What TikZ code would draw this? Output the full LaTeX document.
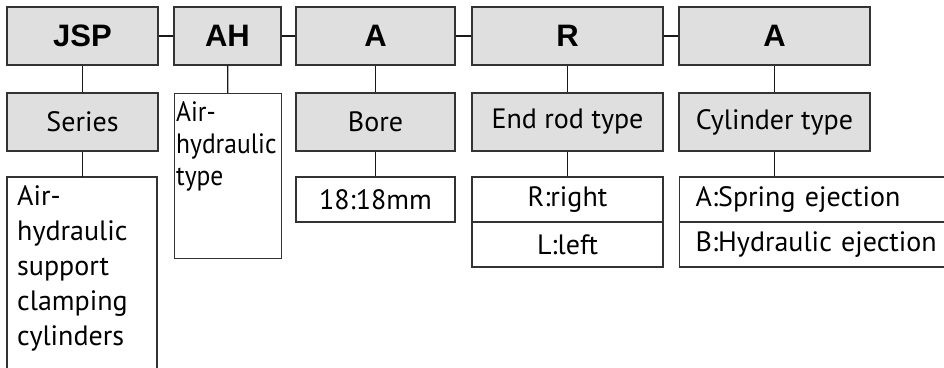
\documentclass[tikz,border=0pt]{standalone}
\usepackage{fontspec}
\setmainfont{PT Sans}
\newfontfamily\codefont{Liberation Sans}
\newfontfamily\narrowfont{PT Sans}[FakeStretch=0.91]

\tikzset{
  codebox/.style={draw=black!80, fill=gray!25, line width=1.3pt, minimum height=58pt,
    inner sep=0pt, font=\codefont\bfseries\fontsize{31}{34}\selectfont},
  namebox/.style={draw=black!80, fill=gray!25, line width=1.3pt, minimum height=58pt,
    inner sep=0pt, font=\fontsize{28}{32}\selectfont},
  optbox/.style={draw=black!80, fill=white, line width=1.3pt, minimum height=45pt,
    inner sep=0pt, font=\fontsize{28}{32}\selectfont},
  descbox/.style={align=left, inner xsep=3pt, inner ysep=8pt,
    font=\fontsize{28}{35}\selectfont},
  link/.style={draw=black!90, line width=1.3pt}
}

\begin{document}
\begin{tikzpicture}[x=1pt,y=1pt]
\useasboundingbox (0,0) rectangle (944,367);
\clip (0,0) rectangle (944,367);

% code row
\node[codebox, minimum width=151pt] (jsp) at (82.5,331) {JSP};
\node[codebox, minimum width=107pt] (ah)  at (227.5,331) {AH};
\node[codebox, minimum width=159pt] (bore code) at (375.5,331) {A};
\node[codebox, minimum width=191pt] (rod code)  at (567.5,331) {R};
\node[codebox, minimum width=191pt] (cyl code)  at (774.5,331) {A};
\draw[link] (jsp) -- (ah);
\draw[link] (ah) -- (bore code);
\draw[link] (bore code) -- (rod code);
\draw[link] (rod code) -- (cyl code);

% names
\node[namebox, minimum width=151pt] (series) at (82.5,245) {Series};
\node[draw=black!80, line width=1.3pt, minimum width=107pt, minimum height=165pt,
      anchor=north west, inner sep=0pt] (type frame) at (174,274) {};
\node[descbox, anchor=north west, inner xsep=2pt, inner ysep=8pt,
      font=\narrowfont\fontsize{28}{32}\selectfont] (type) at (174,274)
  {Air-\\hydraulic\\type};
\node[namebox, minimum width=159pt] (bore) at (375.5,245) {Bore};
\node[namebox, minimum width=191pt] (rod)  at (567.5,245) {End rod type};
\node[namebox, minimum width=191pt] (cyl)  at (774.5,245) {Cylinder type};
\draw[link] (jsp) -- (series);
\draw[link] (ah) -- (type frame);
\draw[link] (bore code) -- (bore);
\draw[link] (rod code) -- (rod);
\draw[link] (cyl code) -- (cyl);

% options
\node[descbox, anchor=north west, inner xsep=10pt] (series opt) at (7,190)
  {Air-\\hydraulic\\support\\clamping\\cylinders};
\draw[link, draw=black!80] (7,-10) |- (157,190) -- (157,-10);
\node[optbox, minimum width=159pt] (bore opt) at (375.5,167.5) {18:18mm};
\node[optbox, minimum width=191pt] (rod r) at (567.5,167.5) {R:right};
\node[optbox, minimum width=191pt] (rod l) at (567.5,122.5) {L:left};
\node[optbox, minimum width=290pt, anchor=west, text width=258pt, align=left,
      inner xsep=16pt] (cyl a) at (679,167.5) {A:Spring ejection};
\node[optbox, minimum width=290pt, anchor=west, text width=258pt, align=left,
      inner xsep=16pt] (cyl b) at (679,122.5) {B:Hydraulic ejection};
\draw[link] (series) -- (series.south |- series opt.north);
\draw[link] (bore) -- (bore opt);
\draw[link] (rod) -- (rod r);
\draw[link] (cyl) -- (cyl a.north -| cyl);
\end{tikzpicture}
\end{document}
